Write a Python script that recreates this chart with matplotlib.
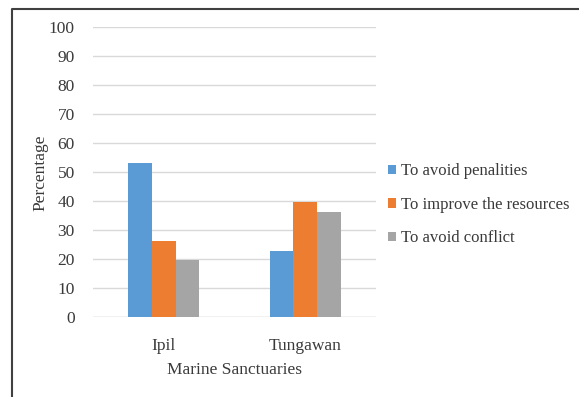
import matplotlib.pyplot as plt
import matplotlib.patches as mpatches
from matplotlib.lines import Line2D
import numpy as np

# data
sites = ['Ipil', 'Tungawan']
avoid_penalties = [53.3, 22.9]
improve_resources = [26.4, 39.7]
avoid_conflict = [19.6, 36.3]
series_names = ['To avoid penalities', 'To improve the resources', 'To avoid conflict']
yticks = list(range(0, 101, 10))

colors = ['#5b9bd5', '#ed7d31', '#a5a5a5']
text_color = '#3a3a3a'

plt.rcParams['font.family'] = ['Liberation Serif', 'DejaVu Serif']

fig = plt.figure(figsize=(5.79, 3.97), dpi=100)
ax = fig.add_axes([0.1606, 0.2008, 0.4888, 0.7304])

x = np.arange(len(sites))
width = 1 / 6
for i, (vals, c) in enumerate(zip([avoid_penalties, improve_resources, avoid_conflict], colors)):
    ax.bar(x + (i - 1) * width, vals, width, color=c, zorder=3)

ax.set_xlim(-0.5, 1.5)
ax.set_ylim(0, 100)
ax.set_yticks(yticks)
ax.yaxis.grid(True, color='#d9d9d9', linewidth=1, zorder=0)
ax.set_xticks(x)
ax.set_xticklabels(sites)
for s in ax.spines.values():
    s.set_visible(False)
ax.axhline(0, color='#d9d9d9', linewidth=1, zorder=1)
ax.tick_params(axis='both', length=0, labelsize=12.5, colors=text_color)
ax.tick_params(axis='y', pad=13)
ax.tick_params(axis='x', pad=15)
ax.set_ylabel('Percentage', fontsize=12.5, color=text_color, labelpad=0)
ax.set_xlabel('Marine Sanctuaries', fontsize=12.5, color=text_color, labelpad=6)

handles = [mpatches.Patch(facecolor=c, label=n) for c, n in zip(colors, series_names)]
fig.legend(handles=handles, loc='center left', bbox_to_anchor=(0.655, 0.484),
           frameon=False, fontsize=12, handlelength=0.5, handleheight=0.5,
           handletextpad=0.3, labelspacing=1.05, borderpad=0, labelcolor=text_color)

# outer frame (only top and left edges are visible in the crop)
fig.add_artist(Line2D([12 / 579, 12 / 579, 1.0], [0.0, 1 - 9 / 397, 1 - 9 / 397],
                      transform=fig.transFigure, color='#404040', linewidth=1.5))

fig.savefig('out.png', dpi=100)
